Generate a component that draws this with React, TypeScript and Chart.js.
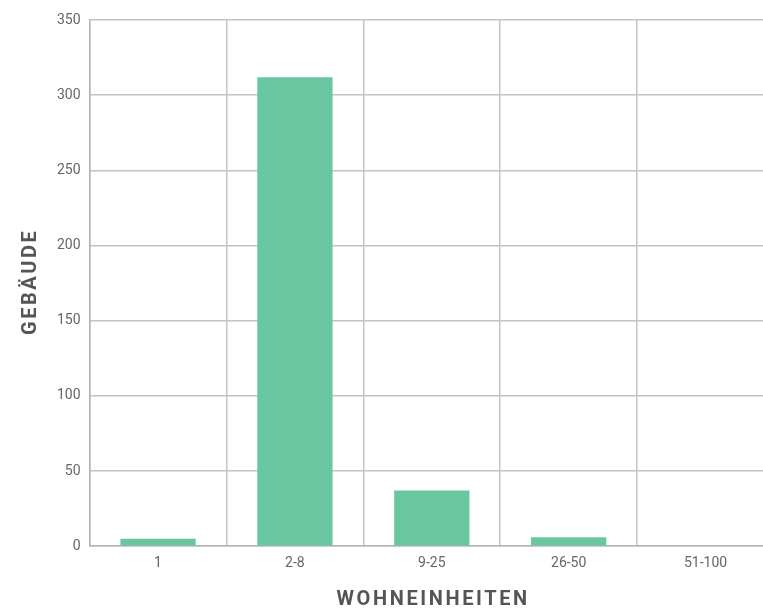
import React, { useEffect, useRef } from "react";
import { Chart, registerables } from "chart.js";

Chart.register(...registerables);

const categories = ["1", "2-8", "9-25", "26-50", "51-100"];
const buildings = [5, 312, 37, 6, 0];
const yTicks = [0, 50, 100, 150, 200, 250, 300, 350];
const xTitle = "WOHNEINHEITEN";
const yTitle = "GEBÄUDE";

const titlePlugin = {
  id: "spacedTitles",
  afterDraw(chart: any) {
    const { ctx, chartArea } = chart;
    const spacing = 2.6;
    ctx.save();
    ctx.font = "bold 20px Roboto";
    ctx.fillStyle = "#555";
    ctx.textAlign = "center";
    ctx.textBaseline = "middle";
    (ctx as any).letterSpacing = spacing + "px";
    // x title
    const cx = (chartArea.left + chartArea.right) / 2;
    ctx.fillText(xTitle, cx + spacing / 2, 600);
    // y title
    const cy = (chartArea.top + chartArea.bottom) / 2;
    ctx.translate(31, cy);
    ctx.rotate(-Math.PI / 2);
    ctx.fillText(yTitle, spacing / 2, 0);
    ctx.restore();
  },
};

export default function App() {
  const ref = useRef<HTMLCanvasElement>(null);
  useEffect(() => {
    const ctx = ref.current!;
    const chart = new Chart(ctx, {
      type: "bar",
      data: {
        labels: categories,
        datasets: [
          {
            data: buildings,
            backgroundColor: "#68c6a0",
            categoryPercentage: 0.55,
            barPercentage: 1,
          },
        ],
      },
      options: {
        animation: false,
        responsive: false,
        maintainAspectRatio: false,
        layout: { padding: { top: 20, right: 16, left: 48, bottom: 28 } },
        plugins: { legend: { display: false }, tooltip: { enabled: false } },
        scales: {
          x: {
            grid: { color: "#c4c4c4", lineWidth: 1.5, drawTicks: false, offset: true },
            border: { color: "#b4b4b4", width: 1.5 },
            ticks: { color: "#666", font: { family: "Roboto", size: 14 }, padding: 9 },
          },
          y: {
            min: 0,
            max: 350,
            afterBuildTicks: (axis: any) => {
              axis.ticks = yTicks.map((v) => ({ value: v }));
            },
            grid: { color: "#c4c4c4", lineWidth: 1.5, drawTicks: false },
            border: { color: "#b4b4b4", width: 1.5 },
            ticks: { color: "#666", font: { family: "Roboto", size: 14 }, padding: 9 },
          },
        },
      },
      plugins: [titlePlugin],
    });
    return () => chart.destroy();
  }, []);
  return (
    <div style={{ position: "fixed", left: 0, top: 0, width: 763, height: 609, overflow: "hidden", background: "#fff" }}>
      <canvas ref={ref} width={790} height={609} style={{ display: "block" }} />
    </div>
  );
}
